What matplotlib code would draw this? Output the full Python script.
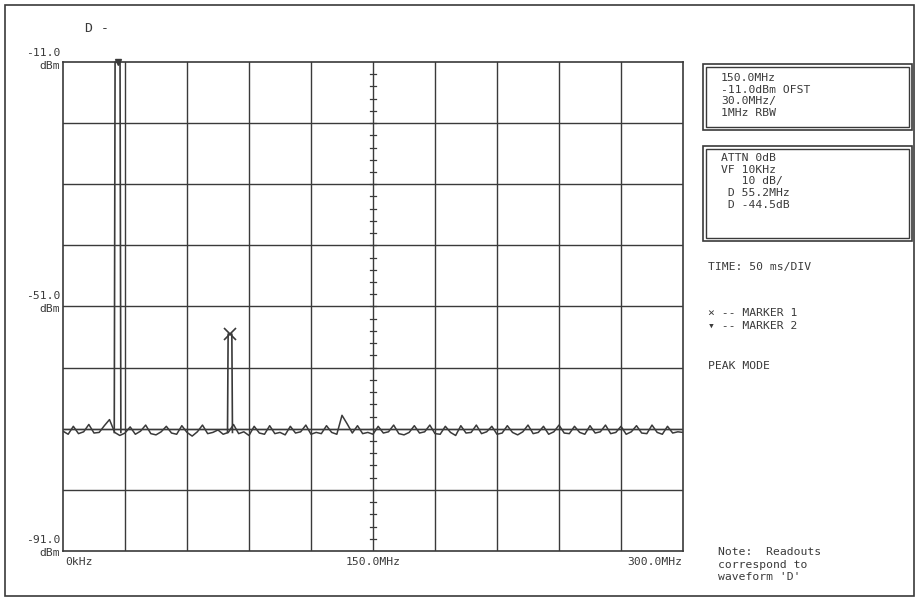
import numpy as np
import matplotlib
matplotlib.use('Agg')
import matplotlib.pyplot as plt
from matplotlib.patches import Rectangle

# spectrum analyzer screen dump: 0-300 MHz, -11 dBm ref, 10 dB/div

# noise floor trace (dBm), evenly spaced over 0..300 MHz
noise_db = [-71.4, -71.9, -70.6, -71.8, -71.5, -70.3, -71.7, -71.6, -70.5, -69.5,
            -71.6, -72.1, -71.7, -70.7, -71.9, -71.4, -70.4, -71.8, -72.0, -71.5,
            -70.6, -71.7, -71.9, -70.5, -71.6, -72.2, -71.5, -70.4, -71.8, -71.6,
            -71.2, -71.9, -71.6, -70.3, -71.8, -71.5, -72.1, -70.6, -71.7, -71.9,
            -70.5, -71.8, -71.6, -72.0, -70.6, -71.7, -71.5, -70.4, -71.9, -71.6,
            -71.8, -70.5, -71.6, -71.9, -68.8, -70.2, -71.7, -70.5, -71.8, -71.6,
            -71.9, -70.6, -71.7, -71.5, -70.4, -71.8, -72.0, -71.6, -70.5, -71.7,
            -71.5, -70.4, -71.8, -71.9, -70.6, -71.6, -72.1, -70.5, -71.7, -71.6,
            -70.4, -71.8, -71.5, -70.6, -71.9, -71.7, -70.5, -71.6, -72.0, -71.5,
            -70.4, -71.8, -71.6, -70.6, -71.9, -71.5, -70.4, -71.7, -71.8, -70.6,
            -71.6, -71.9, -70.5, -71.7, -71.5, -70.4, -71.8, -71.6, -70.6, -71.9,
            -71.5, -70.5, -71.7, -71.8, -70.4, -71.6, -71.9, -70.6, -71.7, -71.5, -71.6]
display_line = -71.0

# carrier (marker 2) and spur (marker 1)
peak1_f = [24.8, 25.2, 27.6, 28.0]
peak1_db = [-71.6, -11.0, -11.0, -71.6]
peak2_f = [79.6, 79.9, 81.7, 82.0]
peak2_db = [-71.6, -55.5, -55.5, -71.6]
marker1 = (80.8, -55.5)
marker2 = (26.4, -11.0)

box1_lines = ['150.0MHz', '-11.0dBm OFST', '30.0MHz/', '1MHz RBW']
box2_lines = ['ATTN 0dB', 'VF 10KHz', '   10 dB/', ' D 55.2MHz', ' D -44.5dB']
note_lines = ['Note:  Readouts', 'correspond to', "waveform 'D'"]

W, H = 917, 602
ink = '#3a3a3a'
mono = 'DejaVu Sans Mono'
fs = 8.2

fig = plt.figure(figsize=(W / 100, H / 100), dpi=100)


def fx(x):
    return x / W


def fy(y):
    return 1 - y / H


def ftext(x, y, s, ha='left', size=fs):
    fig.text(fx(x), fy(y), s, ha=ha, va='center', family=mono,
             fontsize=size, color=ink)


def fbox(x0, y0, x1, y1, double=True):
    fig.add_artist(Rectangle((fx(x0), fy(y1)), fx(x1 - x0), (y1 - y0) / H,
                             transform=fig.transFigure, fill=False,
                             edgecolor=ink, lw=1.2))
    if double:
        d = 3
        fig.add_artist(Rectangle((fx(x0 + d), fy(y1 - d)), fx(x1 - x0 - 2 * d),
                                 (y1 - y0 - 2 * d) / H,
                                 transform=fig.transFigure, fill=False,
                                 edgecolor=ink, lw=1.0))


# outer frame
fbox(5, 5, 914, 596, double=False)

ax = fig.add_axes([fx(63), fy(551), (683 - 63) / W, (551 - 62) / H])
ax.set_xlim(0, 300)
ax.set_ylim(-91, -11)
for s in ax.spines.values():
    s.set_color(ink)
    s.set_linewidth(1.2)
ax.set_xticks([])
ax.set_yticks([])

# graticule
for f in np.arange(30, 300, 30):
    ax.axvline(f, color=ink, lw=1.0)
for d in np.arange(-81, -11, 10):
    ax.axhline(d, color=ink, lw=1.0)
# minor ticks on centre line
for d in np.arange(-91, -11, 2):
    ax.plot([148.5, 151.5], [d, d], color=ink, lw=0.9)

# trace
freq = np.linspace(0, 300, len(noise_db))
ax.axhline(display_line, color=ink, lw=1.0)
ax.plot(freq, noise_db, color=ink, lw=1.1)
ax.plot(peak1_f, peak1_db, color=ink, lw=1.2, clip_on=False)
ax.plot(peak2_f, peak2_db, color=ink, lw=1.2)
ax.plot(*marker1, marker='x', ms=9, mew=1.2, color=ink)
ax.plot(*marker2, marker='v', ms=5, color=ink, clip_on=False)

# axis readouts
ftext(85, 28, 'D -', size=9.5)
ftext(60, 53, '-11.0', ha='right')
ftext(60, 66, 'dBm', ha='right')
ftext(60, 296, '-51.0', ha='right')
ftext(60, 309, 'dBm', ha='right')
ftext(60, 540, '-91.0', ha='right')
ftext(60, 553, 'dBm', ha='right')
ftext(65, 562, '0kHz')
ftext(373, 562, '150.0MHz', ha='center')
ftext(682, 562, '300.0MHz', ha='right')

# side panel
fbox(703, 64, 912, 130)
for i, s in enumerate(box1_lines):
    ftext(721, 78 + 11.7 * i, s)
fbox(703, 146, 912, 241)
for i, s in enumerate(box2_lines):
    ftext(721, 158 + 11.7 * i, s)
ftext(708, 267, 'TIME: 50 ms/DIV')
ftext(708, 313, '\u00d7 -- MARKER 1')
ftext(708, 326, '\u25be -- MARKER 2')
ftext(708, 366, 'PEAK MODE')
for i, s in enumerate(note_lines):
    ftext(718, 552 + 12.5 * i, s)

fig.savefig('out.png', dpi=100, facecolor='white')
